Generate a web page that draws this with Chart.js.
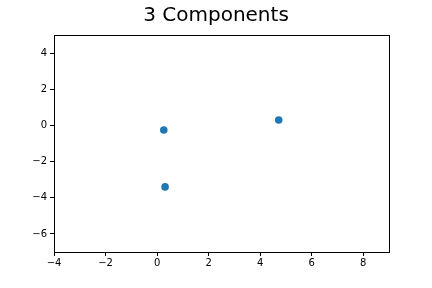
<!DOCTYPE html>
<html>
<head>
<meta charset="utf-8">
<script src="https://cdn.jsdelivr.net/npm/chart.js@4.4.0/dist/chart.umd.min.js"></script>
<style>
    body { margin: 0; background: #fff; }
    #wrap { width: 432px; height: 288px; }
</style>
</head>
<body>
<div id="wrap"><canvas id="myChart" width="432" height="288"></canvas></div>
<script>
let xValues = [0.26, 0.31, 4.72];
let yValues = [-0.25, -3.4, 0.30];
let xTicks = [-4, -2, 0, 2, 4, 6, 8];
let yTicks = [-6, -4, -2, 0, 2, 4];
let chartTitle = '3 Components';

function minusSign(value) {
    return String(value).replace('-', '\u2212');
}

// box around the plot like matplotlib spines
const frame = {
    id: 'frame',
    afterDraw(chart) {
        let a = chart.chartArea;
        let ctx = chart.ctx;
        ctx.save();
        ctx.strokeStyle = '#000';
        ctx.lineWidth = 1;
        ctx.strokeRect(Math.round(a.left) + 0.5, Math.round(a.top) + 0.5, Math.round(a.right - a.left), Math.round(a.bottom - a.top));
        ctx.restore();
    }
};

let points = xValues.map((x, i) => ({ x: x, y: yValues[i] }));

const ctx = document.getElementById('myChart').getContext('2d');
const myChart = new Chart(ctx, {
    type: 'scatter',
    data: {
        datasets: [{
            data: points,
            backgroundColor: '#1f77b4',
            borderWidth: 0,
            pointRadius: 3.8,
            pointHoverRadius: 3.8
        }]
    },
    options: {
        responsive: false,
        animation: false,
        layout: { padding: 0 },
        plugins: {
            legend: { display: false },
            tooltip: { enabled: false },
            title: {
                display: true,
                text: chartTitle,
                color: '#000',
                font: { family: 'DejaVu Sans', size: 20, weight: 'normal' },
                padding: { top: 4, bottom: 7 }
            }
        },
        scales: {
            x: {
                type: 'linear',
                min: -4,
                max: 9,
                afterBuildTicks: axis => { axis.ticks = xTicks.map(v => ({ value: v })); },
                afterFit: axis => { axis.height = 36; },
                grid: { display: true, drawOnChartArea: false, drawTicks: true, tickLength: 4, color: '#000' },
                border: { display: false },
                ticks: {
                    color: '#000',
                    padding: 1,
                    maxRotation: 0,
                    font: { family: 'DejaVu Sans', size: 10 },
                    callback: v => minusSign(v)
                }
            },
            y: {
                type: 'linear',
                min: -7,
                max: 5,
                afterBuildTicks: axis => { axis.ticks = yTicks.map(v => ({ value: v })); },
                afterFit: axis => { axis.width = 54; },
                grid: { display: true, drawOnChartArea: false, drawTicks: true, tickLength: 4, color: '#000' },
                border: { display: false },
                ticks: {
                    color: '#000',
                    padding: 3,
                    font: { family: 'DejaVu Sans', size: 10 },
                    callback: v => minusSign(v)
                }
            },
            // empty right margin so the title stays centred on the page
            yRight: {
                type: 'linear',
                position: 'right',
                min: -7,
                max: 5,
                afterFit: axis => { axis.width = 43; },
                grid: { display: false },
                border: { display: false },
                ticks: { display: false }
            }
        }
    },
    plugins: [frame]
});
</script>
</body>
</html>
